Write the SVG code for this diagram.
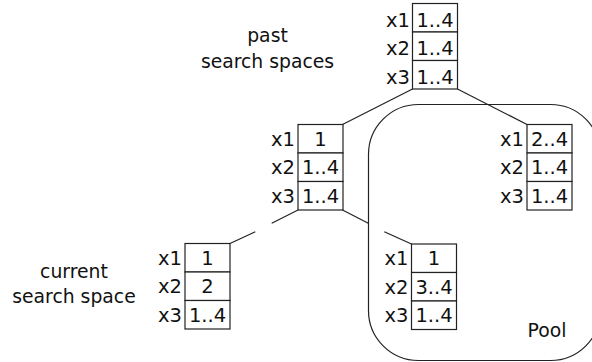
<svg xmlns="http://www.w3.org/2000/svg" width="592" height="362" viewBox="0 0 592 362">
<style>
text{font-family:"DejaVu Sans","Liberation Sans",sans-serif;font-size:18.8px;fill:#111}
.lbl{text-anchor:end;font-size:19.5px}
.val{text-anchor:middle;font-size:19.5px}
.cap{text-anchor:middle}
.box{fill:#fff;stroke:#222;stroke-width:1.2}
.edge{stroke:#222;stroke-width:1.2;fill:none}
.pool{fill:none;stroke:#222;stroke-width:1.2}
</style>
<defs>
<g id="cells">
<rect class="box" x="0" y="0" width="45" height="28.5"/>
<rect class="box" x="0" y="28.5" width="45" height="28.5"/>
<rect class="box" x="0" y="57" width="45" height="28.5"/>
</g>
</defs>
<g id="pool">
<rect class="pool" x="368.5" y="104.5" width="232" height="256" rx="50" ry="50"/>
<text class="cap" x="547" y="337">Pool</text>
</g>
<g id="connectors">
<line class="edge" x1="412.5" y1="89" x2="342.5" y2="124.5"/>
<line class="edge" x1="457.5" y1="89" x2="527" y2="124.5"/>
<line class="edge" x1="298" y1="210" x2="271.7" y2="223.3"/>
<line class="edge" x1="255.3" y1="231.7" x2="230" y2="243.5"/>
<line class="edge" x1="342.5" y1="210" x2="368.3" y2="223.3"/>
<line class="edge" x1="384.3" y1="231.7" x2="411.5" y2="244"/>
</g>
<g id="label-past">
<text class="cap" x="267.5" y="42">past</text>
<text class="cap" x="267.5" y="68">search spaces</text>
</g>
<g id="label-current">
<text class="cap" x="74" y="278">current</text>
<text class="cap" x="74" y="303">search space</text>
</g>
<g id="node-root" transform="translate(412.5,3.5)">
<use href="#cells"/>
<text class="lbl" x="-2.5" y="23">x1</text><text class="val" x="22.5" y="23">1..4</text>
<text class="lbl" x="-2.5" y="51.5">x2</text><text class="val" x="22.5" y="51.5">1..4</text>
<text class="lbl" x="-2.5" y="80">x3</text><text class="val" x="22.5" y="80">1..4</text>
</g>
<g id="node-mid" transform="translate(298,124.5)">
<use href="#cells"/>
<text class="lbl" x="-3" y="21">x1</text><text class="val" x="22.5" y="21">1</text>
<text class="lbl" x="-3" y="49.5">x2</text><text class="val" x="22.5" y="49.5">1..4</text>
<text class="lbl" x="-3" y="78">x3</text><text class="val" x="22.5" y="78">1..4</text>
</g>
<g id="node-right" transform="translate(527,124.5)">
<use href="#cells"/>
<text class="lbl" x="-3" y="21">x1</text><text class="val" x="22.5" y="21">2..4</text>
<text class="lbl" x="-3" y="49.5">x2</text><text class="val" x="22.5" y="49.5">1..4</text>
<text class="lbl" x="-3" y="78">x3</text><text class="val" x="22.5" y="78">1..4</text>
</g>
<g id="node-current" transform="translate(185,243.5)">
<use href="#cells"/>
<text class="lbl" x="-3" y="21">x1</text><text class="val" x="22.5" y="21">1</text>
<text class="lbl" x="-3" y="49.5">x2</text><text class="val" x="22.5" y="49.5">2</text>
<text class="lbl" x="-3" y="78">x3</text><text class="val" x="22.5" y="78">1..4</text>
</g>
<g id="node-pool" transform="translate(411.5,244)">
<use href="#cells"/>
<text class="lbl" x="-3" y="21">x1</text><text class="val" x="22.5" y="21">1</text>
<text class="lbl" x="-3" y="49.5">x2</text><text class="val" x="22.5" y="49.5">3..4</text>
<text class="lbl" x="-3" y="78">x3</text><text class="val" x="22.5" y="78">1..4</text>
</g>
</svg>
